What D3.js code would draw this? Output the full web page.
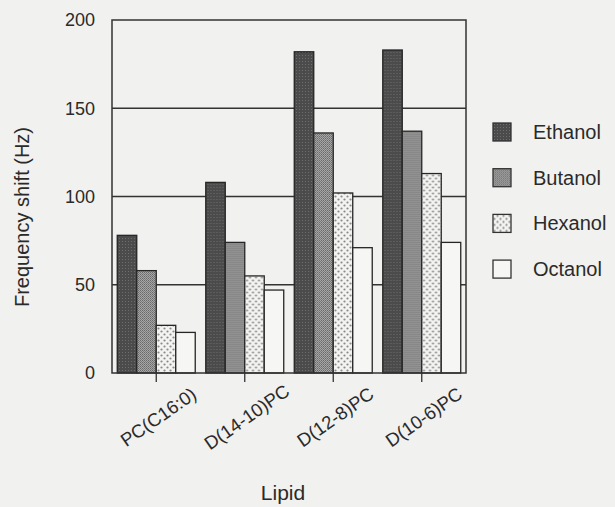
<!DOCTYPE html>
<html>
	<head>
		<script type="text/javascript" src="https://cdn.jsdelivr.net/npm/d3@7"></script>
		<style>
		body {
			margin: 0;
			background-color: #f1f1ef;
		}
		.chart text {
			fill: #2a2a2a;
			font-family: "Liberation Sans", Arial, sans-serif;
		}
		</style>
	</head>
	<body>
		<script type="text/javascript">
			var lipids = ["PC(C16:0)", "D(14-10)PC", "D(12-8)PC", "D(10-6)PC"];
			var alcohols = ["Ethanol", "Butanol", "Hexanol", "Octanol"];
			var ethanol = [78, 108, 182, 183];
			var butanol = [58, 74, 136, 137];
			var hexanol = [27, 55, 102, 113];
			var octanol = [23, 47, 71, 74];
			var yTicks = [0, 50, 100, 150, 200];

			var values = [ethanol, butanol, hexanol, octanol];

			var width = 615,
				height = 507,
				plotLeft = 112, plotRight = 466,
				plotTop = 20, plotBottom = 373;

			var svg = d3.select("body").append("svg")
				.attr("class", "chart")
				.attr("width", width)
				.attr("height", height);

			// fill patterns, roughly like the scanned hatching
			var defs = svg.append("defs");

			var p1 = defs.append("pattern").attr("id", "pat0")
				.attr("width", 3).attr("height", 3).attr("patternUnits", "userSpaceOnUse");
			p1.append("rect").attr("width", 3).attr("height", 3).attr("fill", "#4b4b4b");
			p1.append("rect").attr("x", 1).attr("y", 1).attr("width", 1).attr("height", 1).attr("fill", "#6e6e6e");

			var p2 = defs.append("pattern").attr("id", "pat1")
				.attr("width", 2).attr("height", 2).attr("patternUnits", "userSpaceOnUse");
			p2.append("rect").attr("width", 2).attr("height", 2).attr("fill", "#a6a6a6");
			p2.append("rect").attr("width", 1).attr("height", 1).attr("fill", "#6a6a6a");
			p2.append("rect").attr("x", 1).attr("y", 1).attr("width", 1).attr("height", 1).attr("fill", "#7c7c7c");

			var p3 = defs.append("pattern").attr("id", "pat2")
				.attr("width", 6).attr("height", 6).attr("patternUnits", "userSpaceOnUse");
			p3.append("rect").attr("width", 6).attr("height", 6).attr("fill", "#f3f3f1");
			p3.append("circle").attr("cx", 1.5).attr("cy", 1.5).attr("r", 1.1).attr("fill", "#8a8a8a");
			p3.append("circle").attr("cx", 4.5).attr("cy", 4.5).attr("r", 1.1).attr("fill", "#8a8a8a");

			var fills = ["url(#pat0)", "url(#pat1)", "url(#pat2)", "#f6f6f4"];

			var x0 = d3.scaleBand()
				.domain(lipids)
				.range([plotLeft, plotRight]);

			var x1 = d3.scaleBand()
				.domain(alcohols)
				.range([0, x0.bandwidth()])
				.paddingOuter(0.27);

			var y = d3.scaleLinear()
				.domain([0, 200])
				.range([plotBottom, plotTop]);

			// grid lines behind the bars
			svg.append("g")
				.selectAll("line")
				.data(yTicks.slice(1, 4))
			  .enter().append("line")
				.attr("x1", plotLeft).attr("x2", plotRight)
				.attr("y1", function(d) { return y(d); })
				.attr("y2", function(d) { return y(d); })
				.attr("stroke", "#333")
				.attr("stroke-width", 1.3);

			// bars
			var group = svg.selectAll("g.group")
				.data(lipids)
			  .enter().append("g")
				.attr("class", "group")
				.attr("transform", function(d) { return "translate(" + x0(d) + ",0)"; });

			group.selectAll("rect")
				.data(function(d, i) { return alcohols.map(function(a, j) { return {a: a, j: j, v: values[j][i]}; }); })
			  .enter().append("rect")
				.attr("x", function(d) { return x1(d.a); })
				.attr("y", function(d) { return y(d.v); })
				.attr("width", x1.bandwidth())
				.attr("height", function(d) { return y(0) - y(d.v); })
				.attr("fill", function(d) { return fills[d.j]; })
				.attr("stroke", "#262626")
				.attr("stroke-width", 1.3);

			// frame
			svg.append("rect")
				.attr("x", plotLeft).attr("y", plotTop)
				.attr("width", plotRight - plotLeft).attr("height", plotBottom - plotTop)
				.attr("fill", "none")
				.attr("stroke", "#333")
				.attr("stroke-width", 1.5);

			// y labels
			svg.append("g")
				.selectAll("text")
				.data(yTicks)
			  .enter().append("text")
				.attr("x", 95)
				.attr("y", function(d) { return y(d); })
				.attr("dy", "0.35em")
				.attr("text-anchor", "end")
				.style("font-size", "18px")
				.text(function(d) { return d; });

			// x ticks and rotated labels
			svg.append("g")
				.selectAll("line")
				.data(lipids)
			  .enter().append("line")
				.attr("x1", function(d) { return x0(d) + x0.bandwidth() / 2; })
				.attr("x2", function(d) { return x0(d) + x0.bandwidth() / 2; })
				.attr("y1", plotBottom).attr("y2", plotBottom + 9)
				.attr("stroke", "#333")
				.attr("stroke-width", 1.3);

			svg.append("g")
				.selectAll("text")
				.data(lipids)
			  .enter().append("text")
				.attr("transform", function(d) { return "translate(" + (x0(d) + x0.bandwidth() / 2 + 2) + ",417) rotate(-35)"; })
				.attr("dy", "0.35em")
				.attr("text-anchor", "middle")
				.style("font-size", "18.5px")
				.text(function(d) { return d; });

			// axis titles
			svg.append("text")
				.attr("x", 283).attr("y", 500)
				.attr("text-anchor", "middle")
				.style("font-size", "21px")
				.text("Lipid");

			svg.append("text")
				.attr("transform", "translate(29,217) rotate(-90)")
				.attr("text-anchor", "middle")
				.style("font-size", "20px")
				.text("Frequency shift (Hz)");

			// legend
			var legend = svg.selectAll("g.legend")
				.data(alcohols)
			  .enter().append("g")
				.attr("class", "legend")
				.attr("transform", function(d, i) { return "translate(493," + (132 + i * 45.7) + ")"; });

			legend.append("rect")
				.attr("x", 0).attr("y", -9)
				.attr("width", 18).attr("height", 18)
				.attr("fill", function(d, i) { return fills[i]; })
				.attr("stroke", "#333")
				.attr("stroke-width", 1.3);

			legend.append("text")
				.attr("x", 40)
				.attr("dy", "0.35em")
				.style("font-size", "20px")
				.text(function(d) { return d; });
		</script>
	</body>
</html>
